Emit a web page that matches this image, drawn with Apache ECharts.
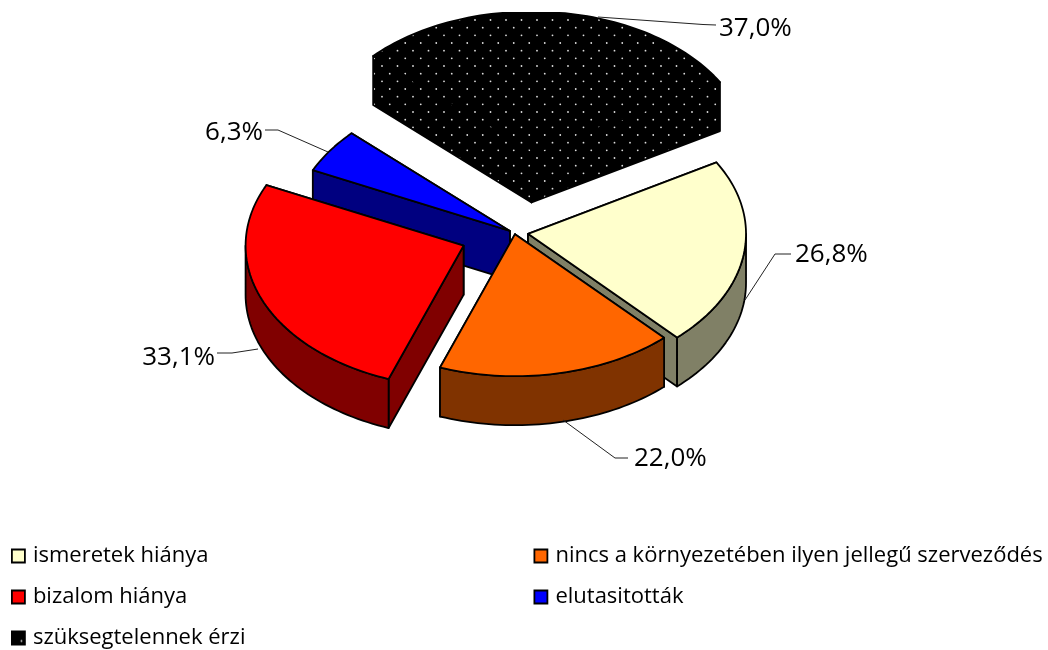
<!DOCTYPE html>
<html><head><meta charset="utf-8">
<script src="https://cdn.jsdelivr.net/npm/echarts@6/dist/echarts.min.js"></script>
<style>html,body{margin:0;padding:0;background:#fff}#c{width:1048px;height:650px}</style>
</head><body><div id="c"></div>
<script>
const categories = ['ismeretek hiánya','nincs a környezetében ilyen jellegű szerveződés','bizalom hiánya','elutasitották','szüksegtelennek érzi'];
const values = [26.8,22.0,33.1,6.3,37.0];
const topColors = ['#FFFFCC','#FF6600','#FF0000','#0000FF','#000000'];
const sideColors = ['#808066','#803300','#800000','#000080','#000000'];
const explode = [0.065,0.012,0.245,0.02,0.56];
const nudgeX = [0.5,1,-0.5,0,4];
const drawOrder = [4,3,0,2,1];
const labelLayout = [
  {x:795,y:255,align:'left',line:[[791,254],[775,254],[745,300]]},
  {x:634,y:459,align:'left',line:[[628,458],[615,458],[563,420]]},
  {x:215,y:358,align:'right',line:[[217,353],[232,353],[258,349]]},
  {x:263,y:133,align:'right',line:[[265,130],[278,130],[328,152]]},
  {x:719,y:29,align:'left',line:[[716,25],[703,24.5],[598,17]]}
];
const FONT = '"Open Sans",sans-serif';
const CX=513.5, CY=232.5, RX=218, RY=142, DEPTH=49, START=59.8, CLIP_TOP=13;

const total = values.reduce((a,b)=>a+b,0);
const spans = []; let acc = START;
values.forEach(v=>{const s=v/total*360; spans.push([acc,acc+s]); acc+=s;});
const rad = d=>d*Math.PI/180;

function dots(w,h,list,r){
  const c=document.createElement('canvas');c.width=w;c.height=h;
  const g=c.getContext('2d');g.fillStyle='#000';g.fillRect(0,0,w,h);g.fillStyle='#ddd';
  list.forEach(p=>{g.beginPath();g.arc(p[0],p[1],r,0,Math.PI*2);g.fill();});
  return c;
}
const tileList=[];
for(let j=0;j<6;j++){for(let i=0;i<2;i++){
  const y=(20+j*7.67)%46, x=(10+i*15.5+(j%2?-7.75:0)+31)%31;
  tileList.push([x,y]);
}}
const pattern={image:dots(31,46,tileList,0.9),repeat:'repeat'};
const legendPattern={image:dots(14,14,[[9.5,9.5]],0.9),repeat:'repeat'};

function renderSlice(i){
  const [a,b]=spans[i];
  const m=(a+b)/2;
  const ax=CX+nudgeX[i]+explode[i]*RX*Math.sin(rad(m));
  const ay=CY-explode[i]*RY*Math.cos(rad(m));
  const pt=(t,dz)=>[ax+RX*Math.sin(rad(t)),Math.max(CLIP_TOP,ay-RY*Math.cos(rad(t)))+(dz||0)];
  const arc=(from,to,dz)=>{const n=Math.max(2,Math.ceil((to-from)/1.5));const o=[];
    for(let k=0;k<=n;k++)o.push(pt(from+(to-from)*k/n,dz));return o;};
  const fillTop=i===4?pattern:topColors[i];
  const fillSide=i===4?pattern:sideColors[i];
  const st=f=>({fill:f,stroke:'#000',lineWidth:1.8,lineJoin:'round'});
  const poly=(pts,f)=>({type:'polygon',silent:true,shape:{points:pts},style:st(f)});
  const kids=[];
  const radial=t=>poly([[ax,ay],pt(t),pt(t,DEPTH),[ax,ay+DEPTH]],fillSide);
  const startVisible=Math.sin(rad(a))<0, endVisible=Math.sin(rad(b))>0;
  if(!startVisible)kids.push(radial(a));
  if(!endVisible)kids.push(radial(b));
  if(startVisible)kids.push(radial(a));
  if(endVisible)kids.push(radial(b));
  const w0=Math.max(a,90), w1=Math.min(b,270);
  if(w1>w0){kids.push(poly(arc(w0,w1,0).concat(arc(w0,w1,DEPTH).reverse()),fillSide));}
  kids.push(poly([[ax,ay]].concat(arc(a,b,0)),fillTop));
  return {type:'group',children:kids};
}
function renderLabel(i){
  const l=labelLayout[i];
  return {type:'group',children:[
    {type:'polyline',silent:true,shape:{points:l.line},style:{fill:'none',stroke:'#222',lineWidth:1}},
    {type:'text',silent:true,style:{x:l.x,y:l.y,text:values[i].toFixed(1).replace('.',',')+'%',
      font:'26px '+FONT,fill:'#000',textAlign:l.align,textVerticalAlign:'middle'}}
  ]};
}
const series=drawOrder.map(i=>({type:'custom',name:categories[i],coordinateSystem:'none',data:[values[i]],z:2,
  itemStyle:{color:topColors[i]},renderItem:()=>renderSlice(i),animation:false}));
series.push({type:'custom',name:'labels',coordinateSystem:'none',data:[0],z:3,animation:false,silent:true,
  renderItem:()=>({type:'group',children:values.map((v,i)=>renderLabel(i))})});

const legendItem=i=>({name:categories[i],icon:'rect',
  itemStyle:{color:i===4?legendPattern:topColors[i],borderColor:'#000',borderWidth:1.8}});
const legendBase={orient:'vertical',padding:0,itemWidth:13,itemHeight:13,itemGap:19,selectedMode:false,
  textStyle:{fontFamily:FONT,fontSize:22,color:'#000',padding:[0,0,0,3]},inactiveColor:'#000'};
const chart=echarts.init(document.getElementById('c'),null,{renderer:'canvas'});
chart.setOption({
  backgroundColor:'#fff',animation:false,tooltip:{show:false},
  legend:[
    Object.assign({},legendBase,{left:11,top:545,data:[0,2,4].map(legendItem)}),
    Object.assign({},legendBase,{left:533.5,top:545,data:[1,3].map(legendItem)})
  ],
  series
});
</script></body></html>
